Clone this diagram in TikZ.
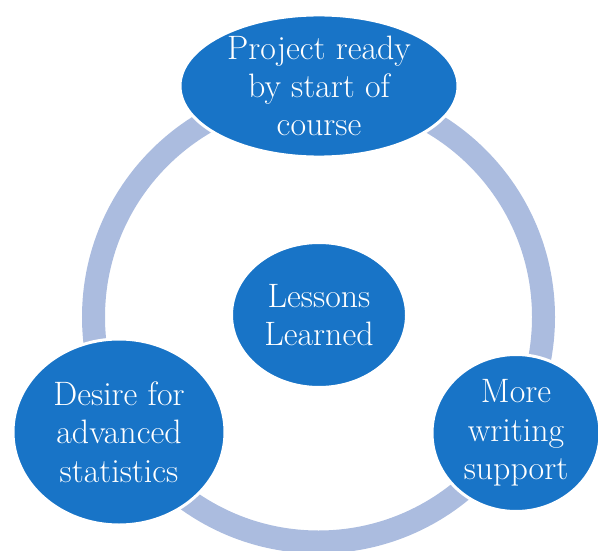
\documentclass[tikz,border=0pt]{standalone}
\usepackage{xcolor}
\usepackage{tikz}
\usetikzlibrary{shapes,positioning}

\definecolor{bubbleblue}{HTML}{1874C7}
\definecolor{ringblue}{HTML}{ABBCDF}

\begin{document}
\begin{tikzpicture}[
        x=1bp, y=-1bp,
        every node/.style={font=\fontsize{34}{38.5}\selectfont},
        bubble/.style={ellipse, fill=bubbleblue, draw=white, line width=3bp, text=white, align=center, inner sep=0pt},
        ring/.style={draw=ringblue, line width=23bp}
        ]
        \useasboundingbox (0,0) rectangle (598,551);

        % light cycle ring behind the bubbles
        \coordinate (hub) at (318.5,317);
        \draw[ring] (hub) circle [radius=225bp];

        \node[bubble, minimum width=278bp, minimum height=140bp] (project) at (319,86) {Project ready\\by start of\\course};
        \node[bubble, minimum width=212bp, minimum height=186bp] (stats) at (119,432) {Desire for\\advanced\\statistics};
        \node[bubble, minimum width=168bp, minimum height=157bp] (writing) at (516,433) {More\\writing\\support};
        \node[bubble, minimum width=175bp, minimum height=145bp] (lessons) at (319,315) {Lessons\\Learned};

    \end{tikzpicture}
\end{document}
